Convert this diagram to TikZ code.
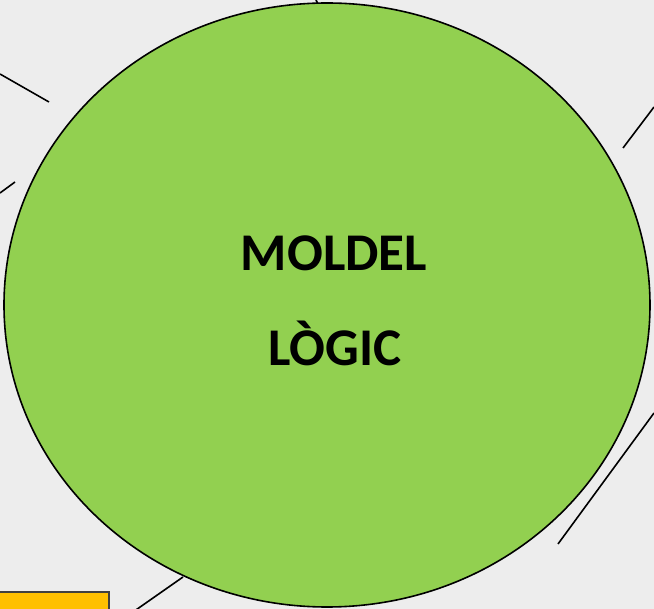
\documentclass[tikz,border=0pt]{standalone}
\usepackage{fontspec}
\setmainfont{Carlito}
\definecolor{bgpaper}{HTML}{EDEDED}
\definecolor{modelgreen}{HTML}{92D050}
\definecolor{boxyellow}{HTML}{FFC000}
\begin{document}
\begin{tikzpicture}[x=1pt,y=-1pt]
\tikzstyle{every node}+=[inner sep=0pt]
\tikzstyle{link}=[black, line width=1.6pt]
\fill [bgpaper] (0,0) rectangle (654,609);
\useasboundingbox (0,0) rectangle (654,609);
% lines round the model
\draw [link] (0,74) -- (49,102);
\draw [link] (0,193) -- (15,182);
\draw [link] (316,0) -- (318,4);
\draw [link] (654,107) -- (623,148);
\draw [link] (654,413) -- (558,544);
\draw [link] (183,577) -- (133,612);
% yellow box at the corner
\draw [fill=boxyellow, draw=black!75, line width=1.6pt] (-5,592) rectangle (109,615);
% the model
\draw [black, line width=1.6pt, fill=modelgreen] (327,305) ellipse [x radius=323pt, y radius=302pt];
\node (logic) at (327,305) {};
\node [font=\fontsize{53}{55}\selectfont\bfseries] (moldel) at (334,253) {MOLDEL};
\node [font=\fontsize{53}{55}\selectfont\bfseries] (logictext) at (335,343) {LÒGIC};
\end{tikzpicture}
\end{document}
